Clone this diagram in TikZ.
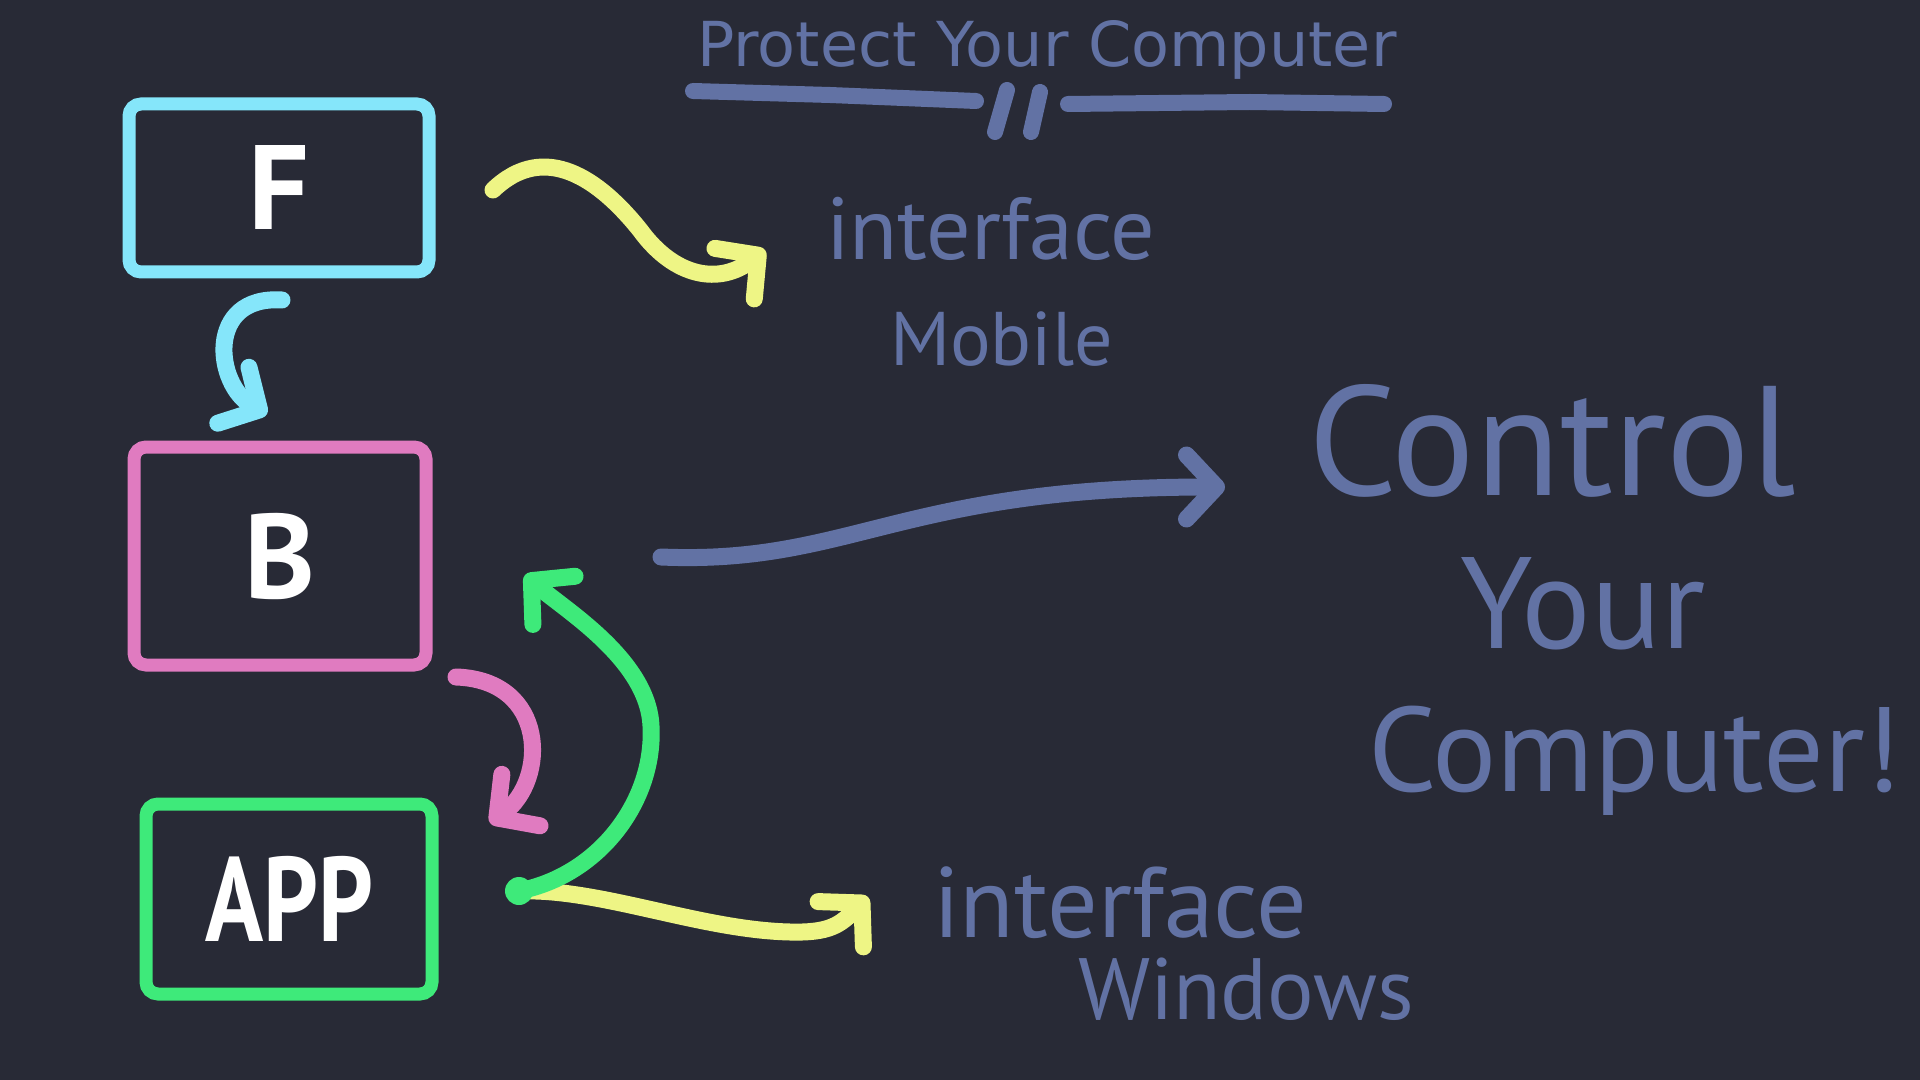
\documentclass[tikz,border=0pt]{standalone}
\usepackage{fontspec}
\setmainfont{PT Sans}
\newfontfamily\titlefont{DejaVu Sans}
\usetikzlibrary{arrows.meta,calc}
\definecolor{bg}{HTML}{282A36}
\definecolor{dcyan}{HTML}{85E6FA}
\definecolor{dpink}{HTML}{E07BC0}
\definecolor{dgreen}{HTML}{3EEA7A}
\definecolor{dyellow}{HTML}{EEF585}
\definecolor{dblue}{HTML}{6272A4}
\begin{document}
\begin{tikzpicture}[x=0.5pt,y=-0.5pt,
  box/.style={draw=#1,line width=6.5pt,rounded corners=6pt,inner sep=0pt,outer sep=0pt,text=white,
    font=\fontsize{60}{60}\selectfont\bfseries},
  conn/.style={line width=8.5pt,line cap=round,line join=round,
    -{Straight Barb[length=15pt,width=32pt,round]}},
  lbl/.style={text=dblue,inner sep=0pt,outer sep=0pt,anchor=base west},
  uline/.style={dblue,line width=8pt,line cap=round,line join=round}]
\fill[bg] (0,0) rectangle (1920,1080);
\useasboundingbox (0,0) rectangle (1920,1080);

% title
\node[font=\titlefont\fontsize{31}{31}\selectfont,text=dblue,anchor=base,inner sep=0pt] (title) at (1047,67) {Protect Your Computer};
\draw[uline] (693,91) -- (830,95) -- (976,101);
\draw[uline] (1007,90) -- (995,132);
\draw[uline] (1040,92) -- (1031,132);
\draw[uline] (1068,104) -- (1250,102) -- (1384,104);

% boxes
\node[box=dcyan,minimum width=150pt,minimum height=84pt] (F) at (279,188) {F};
\node[box=dpink,minimum width=146pt,minimum height=109pt] (B) at (280,556) {B};
\node[box=dgreen,minimum width=143pt,minimum height=95pt] (APP) at (289,899) {\scalebox{0.8}[1]{APP}};

% labels
\node[lbl,font=\fontsize{44}{44}\selectfont] (im1) at (826,260) {interface};
\node[lbl,font=\fontsize{38}{38}\selectfont] (im2) at (890,365) {Mobile};
\node[lbl,font=\fontsize{50}{50}\selectfont] (iw1) at (933,937) {interface};
\node[lbl,font=\fontsize{43.5}{43.5}\selectfont] (iw2) at (1078,1019) {Windows};
\node[lbl,font=\fontsize{78}{78}\selectfont] (cy1) at (1308,495) {Control};
\node[lbl,font=\fontsize{65}{65}\selectfont] (cy2) at (1460,648) {Your};
\node[lbl,font=\fontsize{60}{60}\selectfont] (cy3) at (1368,791) {Computer!};

% connector end points
\coordinate (c1s) at ($(F.south)+(3,28)$);
\coordinate (c1e) at ($(B.north)+(-13,-33)$);
\coordinate (y1s) at ($(F.east)+(64,2)$);
\coordinate (y1e) at ($(im1.base west)+(-61,-10)$);
\coordinate (b1s) at ($(B.east)+(235,1)$);
\coordinate (b1e) at ($(cy1.base west)+(-83,-8)$);
\coordinate (p1s) at ($(B.south east)+(30,12)$);
\coordinate (p1e) at ($(APP.north east)+(58,19)$);
\coordinate (g1s) at ($(APP.east)+(87,-8)$);
\coordinate (g1e) at ($(B.east)+(99,19)$);
\coordinate (y2e) at ($(iw1.base west)+(-65,-40)$);

% connectors
\draw[conn,dcyan] (c1s) .. controls (205,295) and (215,385) .. (c1e);
\draw[conn,dyellow] (y1s) .. controls (545,140) and (600,180) .. (640,230)
   .. controls (675,278) and (720,285) .. (y1e);
\draw[conn,dblue] (b1s) .. controls (850,565) and (900,487) .. (b1e);
\draw[conn,dpink] (p1s) .. controls (548,680) and (548,780) .. (p1e);
\draw[conn,dyellow] (g1s) .. controls (600,888) and (700,930) .. (790,932)
   .. controls (830,933) and (840,925) .. (y2e);
\draw[conn,dgreen] (g1s) .. controls (600,875) and (655,800) .. (651,726)
   .. controls (648,660) and (565,610) .. (g1e);
\fill[dgreen] (g1s) circle (7pt);
\end{tikzpicture}
\end{document}
